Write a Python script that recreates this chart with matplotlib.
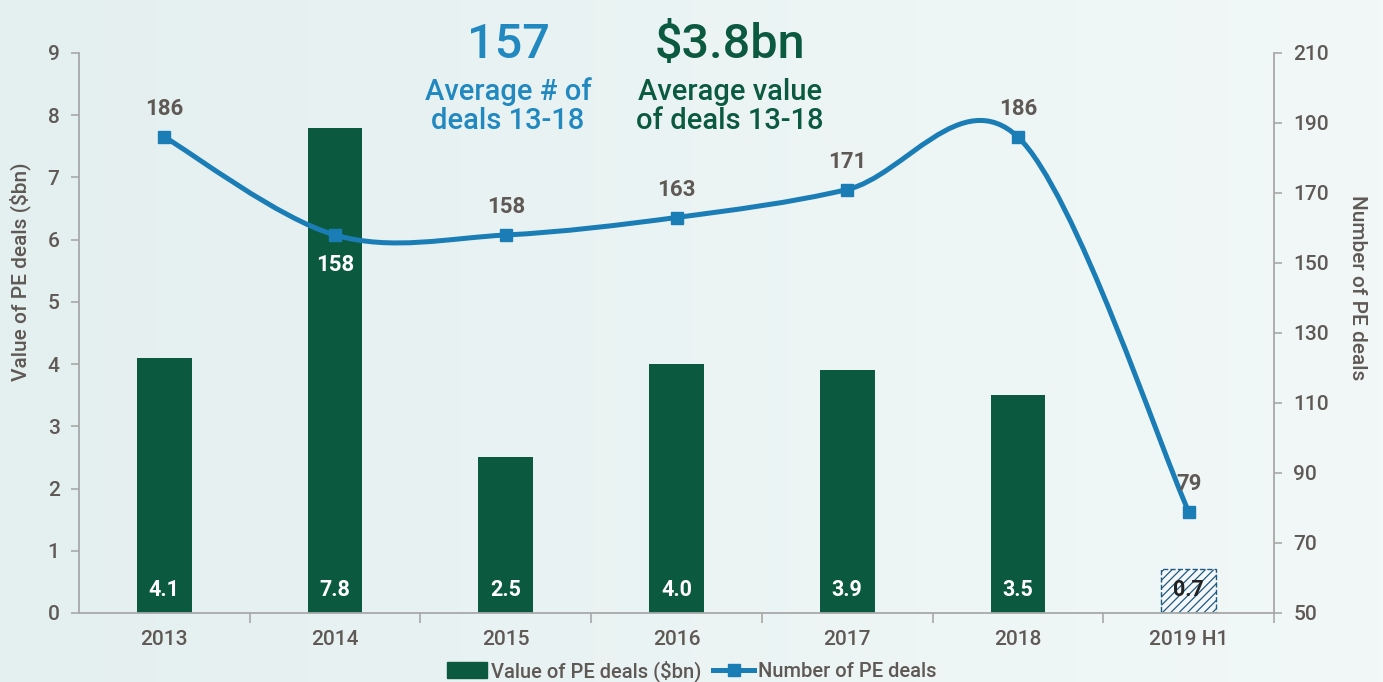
#!/usr/bin/env python
import numpy as np
import matplotlib
matplotlib.use("Agg")
import matplotlib.pyplot as plt
from matplotlib.path import Path
from matplotlib.patches import PathPatch, Patch
from matplotlib.lines import Line2D
from matplotlib.colors import LinearSegmentedColormap

plt.rcParams['font.family'] = ['Roboto', 'DejaVu Sans']
plt.rcParams['hatch.linewidth'] = 0.9

# data
years = ['2013', '2014', '2015', '2016', '2017', '2018', '2019 H1']
values = [4.1, 7.8, 2.5, 4.0, 3.9, 3.5, 0.7]          # $bn
deals = [186, 158, 158, 163, 171, 186, 79]             # number of deals
label_below = [False, True, False, False, False, False, False]

GREEN = '#0b5a40'
BLUE = '#1b7db5'
GREY = '#5f5955'
SPINE = '#a8a8a8'

W, H = 1383, 682


def smooth_path(xs, ys):
    # Excel-style smoothed line: Catmull-Rom as cubic Bezier segments
    pts = np.column_stack([xs, ys]).astype(float)
    n = len(pts)
    verts = [pts[0]]
    codes = [Path.MOVETO]
    for i in range(n - 1):
        p0 = pts[max(i - 1, 0)]
        p1 = pts[i]
        p2 = pts[i + 1]
        p3 = pts[min(i + 2, n - 1)]
        c1 = p1 + (p2 - p0) / 6.0
        c2 = p2 - (p3 - p1) / 6.0
        verts += [c1, c2, p2]
        codes += [Path.CURVE4] * 3
    return Path(verts, codes)


fig = plt.figure(figsize=(W / 100, H / 100), dpi=100)

# background gradient
bg = fig.add_axes([0, 0, 1, 1], zorder=-10)
grad = np.linspace(0, 1, 256).reshape(1, -1)
cmap = LinearSegmentedColormap.from_list('bg', ['#e4efef', '#f2f8f8'])
bg.imshow(grad, aspect='auto', cmap=cmap, extent=[0, 1, 0, 1])
bg.axis('off')

ax = fig.add_axes([79 / W, 1 - 613 / H, (1274 - 79) / W, 560 / H])
ax.patch.set_alpha(0)
x = np.arange(len(years))

for i, v in enumerate(values):
    if i == len(values) - 1:
        ax.bar(x[i], v, width=0.32, facecolor='#f4f8fa', edgecolor='#1f5a80',
               hatch='////', linestyle='--', linewidth=1.0, zorder=2)
        ax.text(x[i], 0.37, f'{v:.1f}', ha='center', va='center',
                color='#222222', fontsize=15.5, fontweight='bold', zorder=5)
    else:
        ax.bar(x[i], v, width=0.32, color=GREEN, zorder=2)
        ax.text(x[i], 0.37, f'{v:.1f}', ha='center', va='center',
                color='white', fontsize=15.5, fontweight='bold', zorder=5)

ax.set_xlim(-0.5, 6.5)
ax.set_ylim(0, 9)
ax.set_yticks(range(0, 10))
ax.set_xticks(x)
ax.set_xticklabels(years)
ax.set_xticks(np.arange(0.5, 7, 1), minor=True)
ax.tick_params(axis='x', which='major', length=0, pad=12, labelsize=15,
               labelcolor=GREY)
ax.tick_params(axis='x', which='minor', length=7, color=SPINE, width=1.2)
ax.tick_params(axis='y', length=6, color=SPINE, width=1.2, labelsize=15,
               labelcolor=GREY, pad=8)
for lab in ax.get_xticklabels() + ax.get_yticklabels():
    lab.set_fontweight('medium')
ax.spines['top'].set_visible(False)
ax.spines['right'].set_visible(False)
for s in ['left', 'bottom']:
    ax.spines[s].set_color(SPINE)
    ax.spines[s].set_linewidth(1.3)
ax.set_ylabel('Value of PE deals ($bn)', fontsize=15, color=GREY,
              fontweight='medium', va='center')
ax.yaxis.set_label_coords(-(79 - 20) / 1195, (613 - 272) / 560)

ax2 = ax.twinx()
ax2.set_ylim(50, 210)
ax2.set_yticks(range(50, 211, 20))
ax2.tick_params(axis='y', length=6, color=SPINE, width=1.2, labelsize=15,
                labelcolor=GREY, pad=8)
for lab in ax2.get_yticklabels():
    lab.set_fontweight('medium')
for s in ['top', 'left', 'bottom']:
    ax2.spines[s].set_visible(False)
ax2.spines['right'].set_color(SPINE)
ax2.spines['right'].set_linewidth(1.3)
ax2.set_ylabel('Number of PE deals', fontsize=15, color=GREY,
               fontweight='medium', rotation=-90, va='center')
ax2.yaxis.set_label_coords(1 + (1357 - 1274) / 1195, (613 - 288) / 560)

ax2.add_patch(PathPatch(smooth_path(x, deals), facecolor='none',
                        edgecolor=BLUE, linewidth=3.6, zorder=3,
                        capstyle='round'))
ax2.plot(x, deals, linestyle='none', marker='s', markersize=8.5,
         color=BLUE, zorder=4)
for i, d in enumerate(deals):
    if label_below[i]:
        ax2.annotate(str(d), (x[i], d), xytext=(0, -14),
                     textcoords='offset points', ha='center', va='top',
                     color='white', fontsize=16, fontweight='bold')
    else:
        ax2.annotate(str(d), (x[i], d), xytext=(0, 12),
                     textcoords='offset points', ha='center', va='bottom',
                     color=GREY, fontsize=16, fontweight='bold')

# headline figures
fig.text(508 / W, 1 - 58 / H, '157', ha='center', va='baseline',
         color='#2188c0', fontsize=35, fontweight='medium')
fig.text(508 / W, 1 - 100 / H, 'Average # of', ha='center',
         va='baseline', color='#2188c0', fontsize=21, fontweight='medium')
fig.text(508 / W, 1 - 129 / H, 'deals 13-18', ha='center',
         va='baseline', color='#2188c0', fontsize=21, fontweight='medium')
fig.text(730 / W, 1 - 58 / H, '$3.8bn', ha='center', va='baseline',
         color=GREEN, fontsize=35, fontweight='medium')
fig.text(730 / W, 1 - 100 / H, 'Average value', ha='center',
         va='baseline', color=GREEN, fontsize=21, fontweight='medium')
fig.text(730 / W, 1 - 129 / H, 'of deals 13-18', ha='center',
         va='baseline', color=GREEN, fontsize=21, fontweight='medium')

handles = [Patch(facecolor=GREEN, edgecolor=GREEN),
           Line2D([], [], color=BLUE, linewidth=3.6, marker='s',
                  markersize=8)]
leg = fig.legend(handles, ['Value of PE deals ($bn)', 'Number of PE deals'],
                 loc='center', bbox_to_anchor=(0.5, 1 - 671 / H), ncol=2,
                 frameon=False, fontsize=14.5, handlelength=2.0,
                 handleheight=0.8, handletextpad=0.2, columnspacing=0.6,
                 borderpad=0)
for t in leg.get_texts():
    t.set_color(GREY)
    t.set_fontweight('medium')

fig.savefig('out.png', dpi=100)
